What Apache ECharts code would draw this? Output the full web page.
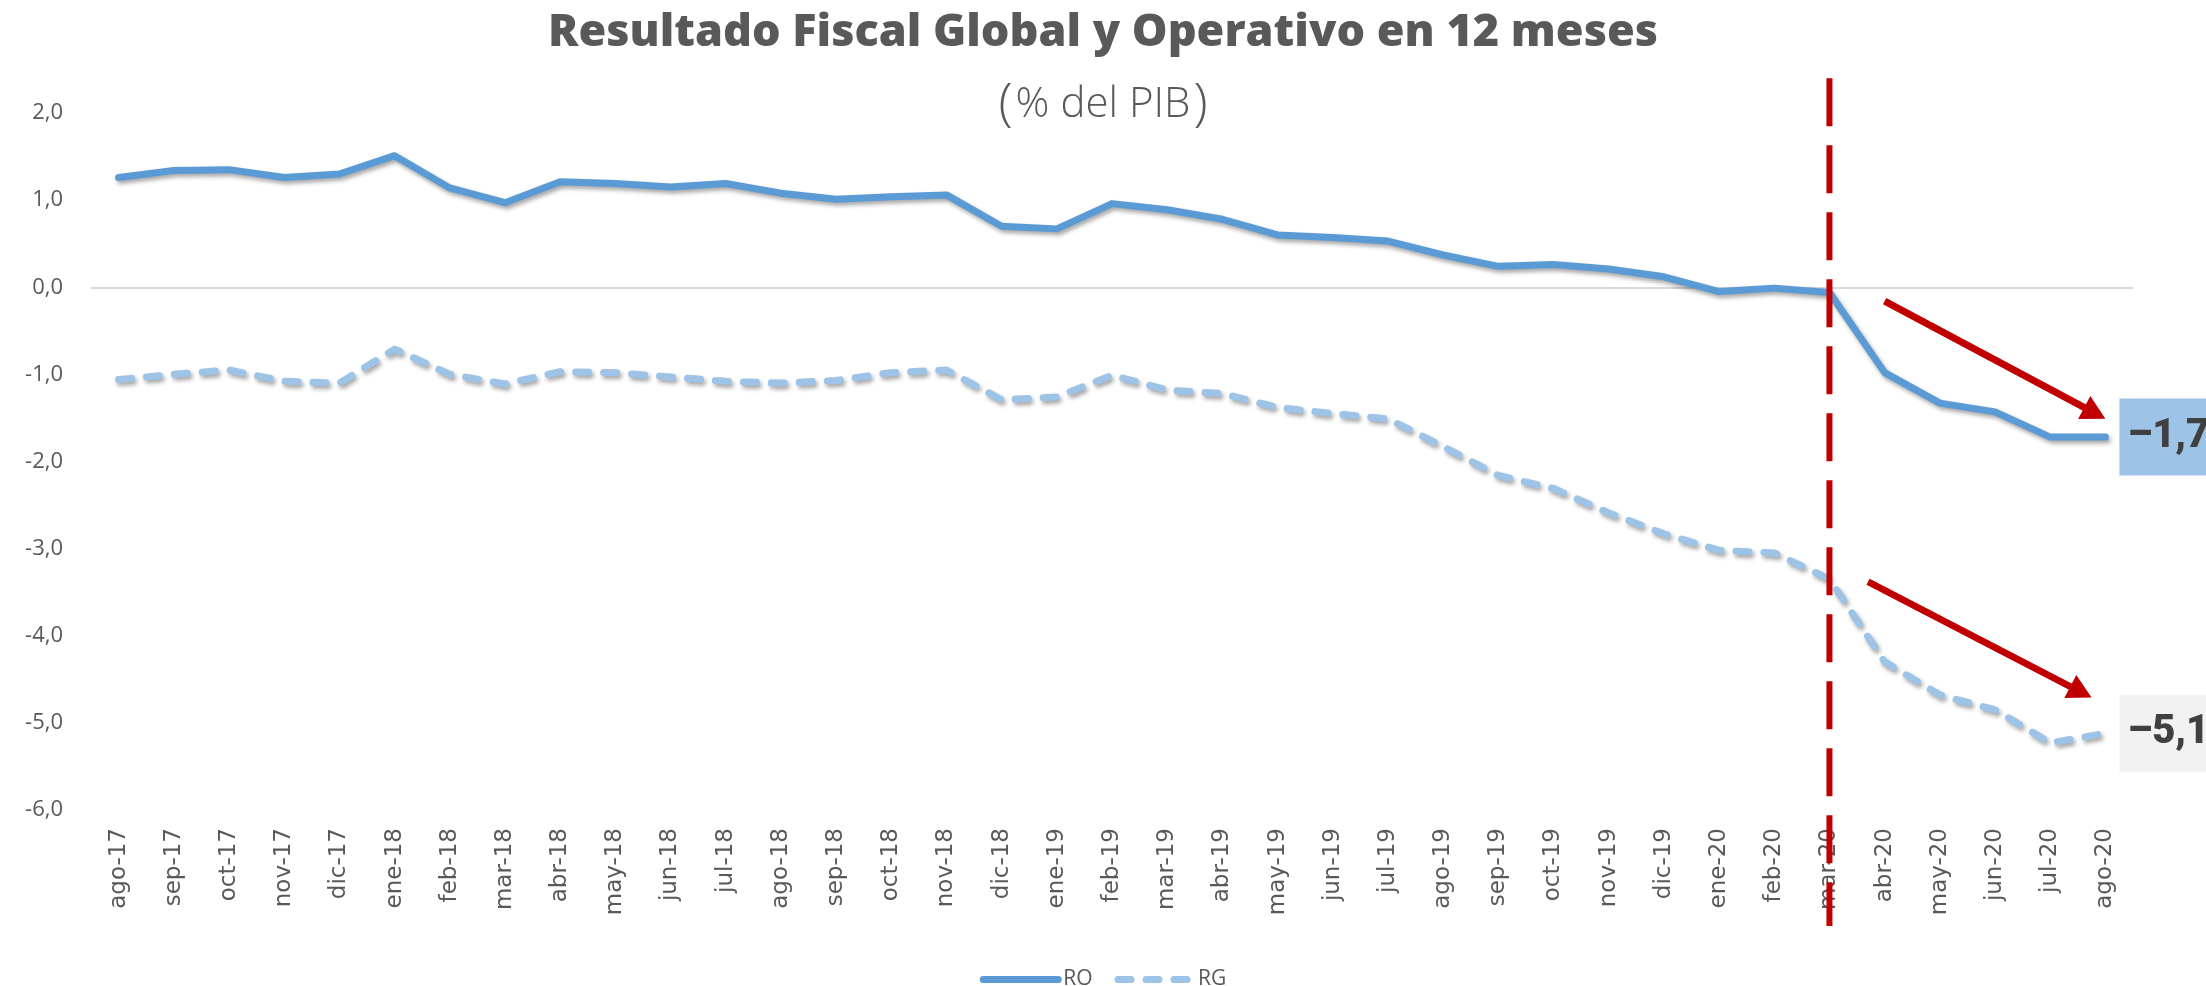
<!DOCTYPE html>
<html><head><meta charset="utf-8">
<script src="https://cdn.jsdelivr.net/npm/echarts@6/dist/echarts.min.js"></script>
<style>html,body{margin:0;padding:0;background:#fff}#c{width:2206px;height:986px}</style>
</head><body><div id="c"></div><script>
const categories = ['ago-17','sep-17','oct-17','nov-17','dic-17','ene-18','feb-18','mar-18','abr-18','may-18','jun-18','jul-18','ago-18','sep-18','oct-18','nov-18','dic-18','ene-19','feb-19','mar-19','abr-19','may-19','jun-19','jul-19','ago-19','sep-19','oct-19','nov-19','dic-19','ene-20','feb-20','mar-20','abr-20','may-20','jun-20','jul-20','ago-20'];
const RO = [1.26,1.34,1.35,1.26,1.30,1.51,1.14,0.97,1.21,1.19,1.15,1.19,1.08,1.01,1.04,1.06,0.70,0.67,0.96,0.89,0.78,0.60,0.57,0.53,0.37,0.24,0.26,0.21,0.12,-0.05,-0.01,-0.06,-0.98,-1.33,-1.43,-1.72,-1.72];
const RG = [-1.06,-1.00,-0.95,-1.08,-1.10,-0.71,-1.00,-1.11,-0.97,-0.98,-1.03,-1.08,-1.10,-1.07,-0.98,-0.95,-1.29,-1.26,-1.01,-1.18,-1.22,-1.38,-1.45,-1.51,-1.83,-2.16,-2.31,-2.59,-2.83,-3.02,-3.05,-3.35,-4.30,-4.68,-4.85,-5.23,-5.12];
const yMin = -6, yMax = 2, yStep = 1;
// annotation: vertical marker at this category, spanning these values
const markerCategory = 'mar-20';
const markerSpan = [2.4, -7.33];
// arrows: [startIndex, startValue, endIndex, endValue]
const arrows = [[32, -0.16, 36, -1.51], [31.7, -3.38, 35.75, -4.71]];

const chart = echarts.init(document.getElementById('c'));
const fmt = v => v.toFixed(1).replace('.', ',');
const endLabel = bg => ({
  show: true, distance: 14,
  formatter: p => fmt(p.value).replace('-', '\u2013'),
  fontFamily: 'Roboto', fontWeight: 900, fontSize: 40, color: '#404040',
  backgroundColor: bg, padding: [19, 40, 18, 8], lineHeight: 40
});

const shadow = {shadowColor: 'rgba(0,0,0,0.35)', shadowBlur: 4, shadowOffsetX: 2, shadowOffsetY: 3};

chart.setOption({
  animation: false,
  backgroundColor: '#fff',
  title: [
    {text: 'Resultado Fiscal Global y Operativo en 12 meses', left: 'center', top: 6,
     textStyle: {fontFamily: 'Open Sans', fontWeight: 800, fontSize: 45, color: '#595959'}},
    {text: '{p|(}{t|% del PIB}{p|)}', left: 'center', top: 72,
     textStyle: {rich: {
       p: {fontFamily: 'Open Sans', fontWeight: 300, fontSize: 52, color: '#595959', lineHeight: 56},
       t: {fontFamily: 'Open Sans', fontWeight: 300, fontSize: 42, color: '#595959', lineHeight: 56, padding: [0, 3, 0, 3]}
     }}}
  ],
  legend: {
    left: 'center', top: 964, itemWidth: 75, itemHeight: 14, itemGap: 22,
    textStyle: {fontFamily: 'Open Sans', fontSize: 21, color: '#595959'},
    lineStyle: {width: 7},
    itemStyle: {opacity: 0},
    data: ['RO', 'RG']
  },
  grid: {left: 91, right: 73, top: 113, bottom: 176},
  xAxis: {
    type: 'category', data: categories, boundaryGap: true,
    axisLine: {show: false}, axisTick: {show: false},
    axisLabel: {rotate: 90, interval: 0, margin: 18, fontFamily: 'DejaVu Sans', fontSize: 23, color: '#595959'}
  },
  yAxis: {
    type: 'value', min: yMin, max: yMax, interval: yStep,
    axisLine: {show: false}, axisTick: {show: false}, splitLine: {show: false},
    axisLabel: {margin: 28, fontFamily: 'Open Sans', fontSize: 22, color: '#595959', formatter: fmt}
  },
  series: [
    {name: 'RO', type: 'line', data: RO, symbol: 'none', z: 3,
     color: '#5B9BD5',
     endLabel: endLabel('#9DC3E6'),
     lineStyle: Object.assign({color: '#5B9BD5', width: 7, cap: 'round', join: 'round'}, shadow),
     markLine: {silent: true, symbol: ['none', 'none'], label: {show: false}, z: 1,
       lineStyle: {color: '#D9D9D9', width: 2, type: 'solid', shadowBlur: 0, shadowOffsetX: 0, shadowOffsetY: 0},
       data: [{yAxis: 0}]}},
    {name: 'RG', type: 'line', data: RG, symbol: 'none', z: 3,
     color: '#9DC3E6',
     endLabel: endLabel('#F2F2F2'),
     lineStyle: Object.assign({color: '#9DC3E6', width: 7, type: [13, 15], cap: 'round', join: 'round'}, shadow)}
  ]
});

function px(idx, val) {
  const i0 = Math.floor(idx), f = idx - i0;
  const a = chart.convertToPixel({xAxisIndex: 0, yAxisIndex: 0}, [i0, val]);
  if (f === 0) return a;
  const b = chart.convertToPixel({xAxisIndex: 0, yAxisIndex: 0}, [i0 + 1, val]);
  return [a[0] + (b[0] - a[0]) * f, a[1]];
}
const red = '#C00000';
const graphics = [];
const mi = categories.indexOf(markerCategory);
const t = px(mi, markerSpan[0]), b = px(mi, markerSpan[1]);
graphics.push({type: 'line', z: 100, shape: {x1: t[0], y1: t[1], x2: b[0], y2: b[1]},
  style: {stroke: red, lineWidth: 6, lineDash: [48, 19]}});
arrows.forEach(a => {
  const s = px(a[0], a[1]), e = px(a[2], a[3]);
  const dx = e[0] - s[0], dy = e[1] - s[1], L = Math.hypot(dx, dy);
  const ux = dx / L, uy = dy / L, hl = 24, hw = 13;
  const bx = e[0] - ux * hl, by = e[1] - uy * hl;
  graphics.push({type: 'line', z: 100, shape: {x1: s[0], y1: s[1], x2: bx + ux * 2, y2: by + uy * 2},
    style: {stroke: red, lineWidth: 7}});
  graphics.push({type: 'polygon', z: 100, shape: {points: [[e[0], e[1]], [bx - uy * hw, by + ux * hw], [bx + uy * hw, by - ux * hw]]},
    style: {fill: red}});
});
chart.setOption({graphic: graphics});
</script></body></html>
